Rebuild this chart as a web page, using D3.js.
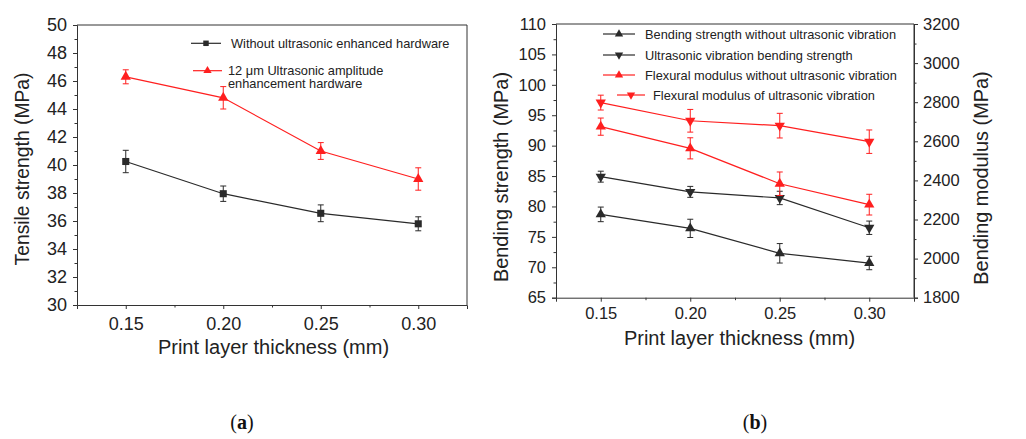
<!DOCTYPE html>
<html>
<head>
<meta charset="utf-8">
<script src="https://cdn.jsdelivr.net/npm/d3@7"></script>
<style>
  body { margin: 0; background: #fff; }
  svg { display: block; font-family: "Liberation Sans", Arial, sans-serif; }
  .axis path, .axis line { stroke: #333; }
  .axis text { fill: #222; font-family: "Liberation Sans", Arial, sans-serif; }
</style>
</head>
<body>
<div id="chart"></div>
<script>
// print layer thickness (mm)
var thickness = [0.15, 0.20, 0.25, 0.30];

// (a) tensile strength (MPa)
var tensileWithout = [40.25, 37.95, 36.55, 35.8];
var tensileWithoutErr = [0.8, 0.55, 0.6, 0.5];
var tensileUltra = [46.3, 44.8, 41.0, 39.0];
var tensileUltraErr = [0.5, 0.8, 0.6, 0.8];

// (b) bending strength (MPa, left axis)
var bendWithout = [78.7, 76.4, 72.3, 70.7];
var bendWithoutErr = [1.2, 1.5, 1.6, 1.1];
var bendUltra = [84.9, 82.4, 81.4, 76.5];
var bendUltraErr = [0.9, 0.9, 1.1, 1.1];

// (b) flexural modulus (MPa, right axis)
var modWithout = [2675, 2564, 2383, 2276];
var modWithoutErr = [44, 54, 60, 53];
var modUltra = [2798, 2705, 2680, 2598];
var modUltraErr = [38, 58, 63, 60];

var xTicks = [0.15, 0.20, 0.25, 0.30];
var xMinor = [0.175, 0.225, 0.275];
var tensileTicks = [30, 32, 34, 36, 38, 40, 42, 44, 46, 48, 50];
var bendTicks = [65, 70, 75, 80, 85, 90, 95, 100, 105, 110];
var modTicks = [1800, 2000, 2200, 2400, 2600, 2800, 3000, 3200];

var BLACK = "#2a2a2a", RED = "#ff1f1f";

var svg = d3.select("#chart").append("svg")
    .attr("width", 1026)
    .attr("height", 439);

var fmt2 = d3.format(".2f");

function minorBetween(ticks) {
    var out = [];
    for (var i = 0; i < ticks.length - 1; i++) out.push((ticks[i] + ticks[i + 1]) / 2);
    return out;
}

// draw a box with axes, returns scales
function drawFrame(p) {
    var x = d3.scaleLinear().domain([0.125, 0.325]).range([p.left, p.right]);
    var y = d3.scaleLinear().domain(p.yDomain).range([p.bottom, p.top]);

    // box top + right
    svg.append("path")
        .attr("d", "M" + p.left + "," + p.top + "H" + p.right + "V" + p.bottom)
        .attr("fill", "none")
        .attr("stroke", "#333");

    svg.append("g").attr("class", "axis")
        .attr("transform", "translate(0," + p.bottom + ")")
        .call(d3.axisBottom(x).tickValues(xTicks).tickFormat(fmt2).tickSize(4).tickPadding(p.xPad))
        .attr("font-family", null)
        .attr("font-size", p.tickFont);
    svg.append("g").attr("class", "axis")
        .attr("transform", "translate(0," + p.bottom + ")")
        .call(d3.axisBottom(x).tickValues(xMinor).tickFormat("").tickSize(2.5))
        .select(".domain").remove();

    svg.append("g").attr("class", "axis")
        .attr("transform", "translate(" + p.left + ",0)")
        .call(d3.axisLeft(y).tickValues(p.yTicks).tickFormat(d3.format("d")).tickSize(4).tickPadding(p.yPad))
        .attr("font-family", null)
        .attr("font-size", p.tickFont);
    svg.append("g").attr("class", "axis")
        .attr("transform", "translate(" + p.left + ",0)")
        .call(d3.axisLeft(y).tickValues(minorBetween(p.yTicks)).tickFormat("").tickSize(2.5))
        .select(".domain").remove();

    svg.append("text")
        .attr("transform", "translate(" + p.yTitleX + "," + p.yTitleY + ") rotate(-90)")
        .attr("text-anchor", "middle")
        .style("font-size", p.titleFont + "px")
        .attr("fill", "#222")
        .text(p.yTitle);

    svg.append("text")
        .attr("x", (p.left + p.right) / 2 + p.xTitleDx)
        .attr("y", p.xTitleY)
        .attr("text-anchor", "middle")
        .style("font-size", "20px")
        .attr("fill", "#222")
        .text("Print layer thickness (mm)");

    return { x: x, y: y };
}

function drawSeries(x, y, vals, errs, color, symbol, flip) {
    var pts = vals.map(function(v, i) { return { t: thickness[i], v: v, e: errs[i] }; });

    svg.append("path")
        .datum(pts)
        .attr("fill", "none")
        .attr("stroke", color)
        .attr("stroke-width", 1.2)
        .attr("d", d3.line().x(function(d) { return x(d.t); }).y(function(d) { return y(d.v); }));

    var eb = svg.append("g").attr("stroke", color).attr("stroke-width", 1);
    pts.forEach(function(d) {
        var cx = x(d.t), y1 = y(d.v + d.e), y2 = y(d.v - d.e);
        eb.append("path")
            .attr("d", "M" + cx + "," + y1 + "V" + y2 + "M" + (cx - 3) + "," + y1 + "H" + (cx + 3) + "M" + (cx - 3) + "," + y2 + "H" + (cx + 3));
    });

    svg.selectAll(null)
        .data(pts)
        .enter().append("path")
        .attr("transform", function(d) { return "translate(" + x(d.t) + "," + y(d.v) + ")" + (flip ? " rotate(180)" : ""); })
        .attr("d", d3.symbol().type(symbol).size(symbol === d3.symbolSquare ? 50 : 46))
        .attr("fill", color);
}

function legendRow(x1, x2, yy, tx, color, symbol, flip, lines) {
    svg.append("line")
        .attr("x1", x1).attr("x2", x2).attr("y1", yy).attr("y2", yy)
        .attr("stroke", color).attr("stroke-width", 1.2);
    svg.append("path")
        .attr("transform", "translate(" + ((x1 + x2) / 2) + "," + yy + ")" + (flip ? " rotate(180)" : ""))
        .attr("d", d3.symbol().type(symbol).size(30))
        .attr("fill", color);
    lines.forEach(function(l, i) {
        svg.append("text")
            .attr("x", tx)
            .attr("y", yy + 4.5 + i * 13)
            .style("font-size", "12.8px")
            .attr("fill", "#222")
            .text(l);
    });
}

// ---- (a) tensile strength ----
var sa = drawFrame({
    left: 77, right: 467, top: 25, bottom: 305,
    yDomain: [30, 50], yTicks: tensileTicks,
    tickFont: 18, titleFont: 19.3, xPad: 8, yPad: 6,
    yTitle: "Tensile strength (MPa)", yTitleX: 29, yTitleY: 169,
    xTitleDx: 1.5, xTitleY: 354
});
drawSeries(sa.x, sa.y, tensileWithout, tensileWithoutErr, BLACK, d3.symbolSquare, false);
drawSeries(sa.x, sa.y, tensileUltra, tensileUltraErr, RED, d3.symbolTriangle, false);

legendRow(191, 221, 43.3, 231, BLACK, d3.symbolSquare, false, ["Without ultrasonic enhanced hardware"]);
legendRow(193, 222, 70.7, 228, RED, d3.symbolTriangle, false, ["12 μm Ultrasonic amplitude", "enhancement hardware"]);

// ---- (b) bending strength + modulus ----
var sb = drawFrame({
    left: 556, right: 914, top: 24, bottom: 297.7,
    yDomain: [65, 110], yTicks: bendTicks,
    tickFont: 16.5, titleFont: 19.9, xPad: 6, yPad: 6,
    yTitle: "Bending strength (MPa)", yTitleX: 508, yTitleY: 177,
    xTitleDx: 4.5, xTitleY: 345
});
var yMod = d3.scaleLinear().domain([1800, 3200]).range([297.7, 24]);

svg.append("g").attr("class", "axis")
    .attr("transform", "translate(914,0)")
    .call(d3.axisRight(yMod).tickValues(modTicks).tickFormat(d3.format("d")).tickSize(4).tickPadding(5))
    .attr("font-family", null)
    .attr("font-size", 16.5);
svg.append("g").attr("class", "axis")
    .attr("transform", "translate(914,0)")
    .call(d3.axisRight(yMod).tickValues(minorBetween(modTicks)).tickFormat("").tickSize(2.5))
    .select(".domain").remove();
svg.append("text")
    .attr("transform", "translate(988,178) rotate(-90)")
    .attr("text-anchor", "middle")
    .style("font-size", "19.9px")
    .attr("fill", "#222")
    .text("Bending modulus (MPa)");

drawSeries(sb.x, sb.y, bendWithout, bendWithoutErr, BLACK, d3.symbolTriangle, false);
drawSeries(sb.x, sb.y, bendUltra, bendUltraErr, BLACK, d3.symbolTriangle, true);
drawSeries(sb.x, yMod, modWithout, modWithoutErr, RED, d3.symbolTriangle, false);
drawSeries(sb.x, yMod, modUltra, modUltraErr, RED, d3.symbolTriangle, true);

legendRow(603, 635, 34, 645, BLACK, d3.symbolTriangle, false, ["Bending strength without ultrasonic vibration"]);
legendRow(603, 635, 55, 645, BLACK, d3.symbolTriangle, true, ["Ultrasonic vibration bending strength"]);
legendRow(603, 635, 75, 645, RED, d3.symbolTriangle, false, ["Flexural modulus without ultrasonic vibration"]);
legendRow(617, 645, 95, 653, RED, d3.symbolTriangle, true, ["Flexural modulus of ultrasonic vibration"]);

// panel labels
[["a", 242], ["b", 755]].forEach(function(p) {
    var t = svg.append("text")
        .attr("x", p[1]).attr("y", 429)
        .attr("text-anchor", "middle")
        .style("font-family", "'Liberation Serif', 'DejaVu Serif', serif")
        .style("font-size", "20px")
        .attr("fill", "#111");
    t.append("tspan").text("(");
    t.append("tspan").style("font-weight", "bold").text(p[0]);
    t.append("tspan").text(")");
});
</script>
</body>
</html>
